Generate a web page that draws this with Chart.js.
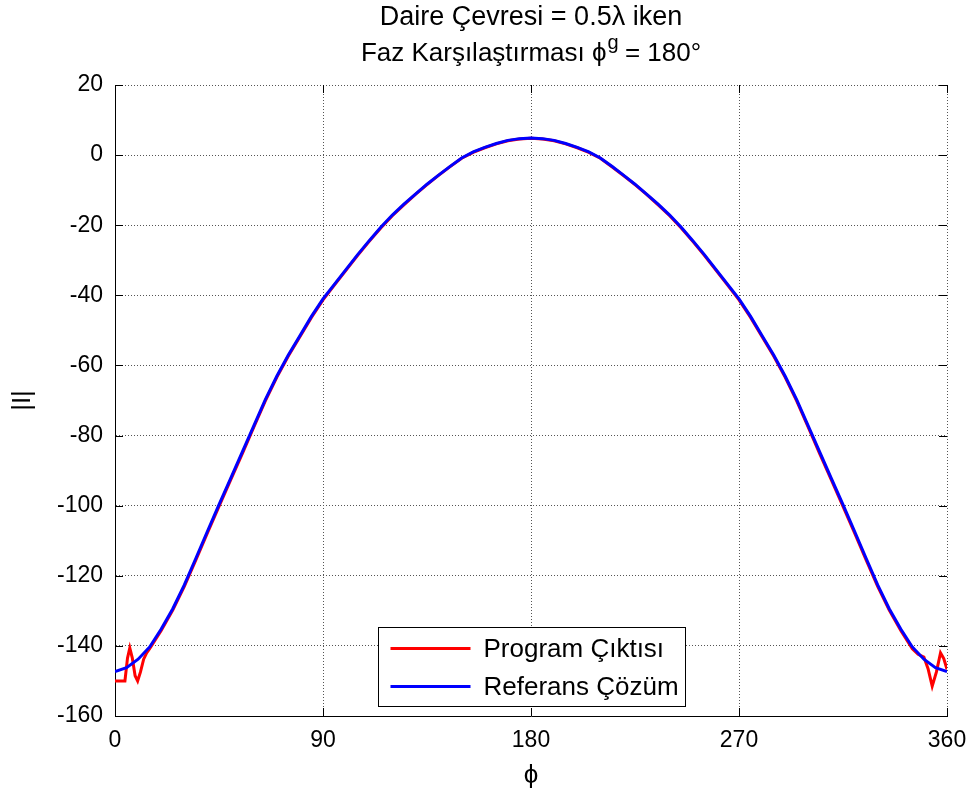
<!DOCTYPE html>
<html lang="tr">
  <head>
    <meta charset="utf-8" />
    <title>Daire Çevresi = 0.5λ iken</title>
    <script src="https://cdn.jsdelivr.net/npm/chart.js"></script>
    <style>
      html, body { margin: 0; padding: 0; background: #fff; }
      canvas { display: block; }
    </style>
  </head>
  <body>
    <canvas id="myChart" width="973" height="794"></canvas>
    <script>
      // phi (derece) ekseni
      const phiRef = [
        0, 5, 10, 15, 20, 25, 30, 35, 40, 45, 50, 55, 60, 65, 70, 75, 80, 85, 90,
        95, 100, 105, 110, 115, 120, 125, 130, 135, 140, 145, 150, 155, 160, 165, 170, 175, 180,
        185, 190, 195, 200, 205, 210, 215, 220, 225, 230, 235, 240, 245, 250, 255, 260, 265, 270,
        275, 280, 285, 290, 295, 300, 305, 310, 315, 320, 325, 330, 335, 340, 345, 350, 355, 360
      ];
      // Referans Çözüm
      const refValues = [
        -147.3, -146.2, -143.8, -140.3, -135.2, -129.4, -122.6, -115.0, -107.3, -99.7,
        -92.3, -84.8, -77.3, -69.8, -63.1, -57.0, -51.5, -46.0, -41.0,
        -36.8, -32.6, -28.4, -24.4, -20.6, -17.1, -14.0, -11.1, -8.3, -5.7,
        -3.2, -0.8, 0.9, 2.2, 3.3, 4.2, 4.7, 4.9,
        4.7, 4.2, 3.3, 2.2, 0.9, -0.8, -3.2, -5.7, -8.3, -11.1,
        -14.0, -17.1, -20.6, -24.4, -28.4, -32.6, -36.8, -41.0,
        -46.0, -51.5, -57.0, -63.1, -69.8, -77.3, -84.8, -92.3, -99.7,
        -107.3, -115.0, -122.6, -129.4, -135.2, -140.3, -143.8, -146.2, -147.3
      ];
      // Program Çıktısı
      const phiProg = [
        0, 2, 4.3, 5.4, 6.4, 7.5, 8.7, 9.8, 11, 12.4, 13.7, 15, 20, 25, 30, 35, 40, 45,
        50, 55, 60, 65, 70, 75, 80, 85, 90, 95, 100, 105, 110, 115, 120, 125, 130, 135,
        140, 145, 150, 155, 160, 165, 170, 175, 180, 185, 190, 195, 200, 205, 210, 215,
        220, 225, 230, 235, 240, 245, 250, 255, 260, 265, 270, 275, 280, 285, 290, 295,
        300, 305, 310, 315, 320, 325, 330, 335, 340, 345, 347.5, 350, 351.8, 353.6, 355.4,
        357.2, 358.6, 360
      ];
      const progValues = [
        -150, -150, -150, -143.5, -140.6, -143.5, -148.5, -150, -147.5, -143.8, -142, -140.8,
        -135.6, -129.8, -123.0, -115.5, -107.8, -100.2,
        -92.7, -85.3, -77.7, -70.2, -63.4, -57.3, -51.8, -46.3, -41.3, -37.0, -32.8, -28.6,
        -24.6, -20.8, -17.3, -14.2, -11.2, -8.4,
        -5.8, -3.3, -0.9, 0.8, 2.1, 3.2, 4.1, 4.6, 4.8, 4.6, 4.1, 3.2, 2.1, 0.8, -0.9, -3.3,
        -5.8, -8.4, -11.2, -14.2, -17.3, -20.8, -24.6, -28.6, -32.8, -37.0, -41.3, -46.3,
        -51.8, -57.3, -63.4, -70.2, -77.7, -85.3, -92.7, -100.2, -107.8, -115.5, -123.0,
        -129.8, -135.6, -140.8, -142.4, -143.2, -146.5, -151.5, -147.5, -142.0, -143.6, -146.7
      ];
      const xTicks = [0, 90, 180, 270, 360];
      const yTicks = [20, 0, -20, -40, -60, -80, -100, -120, -140, -160];

      const FONT = "'Liberation Sans', Arial, Helvetica, sans-serif";

      const frame = {
        id: "frame",
        afterDraw(chart) {
          const { ctx, chartArea: a, scales } = chart;
          ctx.save();
          // iç tik işaretleri
          ctx.strokeStyle = "#000";
          ctx.lineWidth = 1;
          ctx.beginPath();
          scales.y.ticks.forEach((t) => {
            const py = Math.round(scales.y.getPixelForValue(t.value)) + 0.5;
            ctx.moveTo(a.left, py); ctx.lineTo(a.left + 8, py);
            ctx.moveTo(a.right, py); ctx.lineTo(a.right - 8, py);
          });
          scales.x.ticks.forEach((t) => {
            const px = Math.round(scales.x.getPixelForValue(t.value)) + 0.5;
            ctx.moveTo(px, a.bottom); ctx.lineTo(px, a.bottom - 8);
            ctx.moveTo(px, a.top); ctx.lineTo(px, a.top + 8);
          });
          ctx.stroke();

          // başlık
          const cx = (a.left + a.right) / 2;
          ctx.fillStyle = "#000";
          ctx.textBaseline = "middle";
          ctx.font = "27px " + FONT;
          ctx.textAlign = "center";
          ctx.fillText("Daire Çevresi = 0.5λ iken", cx, 18);
          const p1 = "Faz Karşılaştırması ϕ";
          const p2 = "g";
          const p3 = " = 180°";
          ctx.font = "26px " + FONT;
          const w1 = ctx.measureText(p1).width;
          const w3 = ctx.measureText(p3).width;
          ctx.font = "20px " + FONT;
          const w2 = ctx.measureText(p2).width;
          let sx = cx - (w1 + w2 + w3) / 2;
          ctx.textAlign = "left";
          ctx.font = "26px " + FONT;
          ctx.fillText(p1, sx, 54);
          ctx.font = "20px " + FONT;
          ctx.fillText(p2, sx + w1 + 1, 43);
          ctx.font = "26px " + FONT;
          ctx.fillText(p3, sx + w1 + w2, 54);

          // lejant
          const lw = 307, lh = 79;
          const lx = Math.round(cx - lw / 2) + 0.5;
          const ly = Math.round(a.bottom - 10 - lh) + 0.5;
          ctx.fillStyle = "#fff";
          ctx.fillRect(lx, ly, lw, lh);
          ctx.strokeStyle = "#000";
          ctx.lineWidth = 1;
          ctx.strokeRect(lx, ly, lw, lh);
          ctx.font = "26px " + FONT;
          chart.data.datasets.forEach((ds, i) => {
            const yy = ly + 21 + i * 38;
            ctx.strokeStyle = ds.borderColor;
            ctx.lineWidth = 3;
            ctx.beginPath();
            ctx.moveTo(lx + 12, yy);
            ctx.lineTo(lx + 92, yy);
            ctx.stroke();
            ctx.fillStyle = "#000";
            ctx.fillText(ds.label, lx + 105, yy + 1);
          });
          ctx.restore();
        },
      };

      const ctx = document.getElementById("myChart");

      new Chart(ctx, {
        type: "line",
        data: {
          datasets: [
            {
              label: "Program Çıktısı",
              data: phiProg.map((p, i) => ({ x: p, y: progValues[i] })),
              borderColor: "#ff0000",
              borderWidth: 3,
              pointRadius: 0,
              tension: 0,
              order: 2,
            },
            {
              label: "Referans Çözüm",
              data: phiRef.map((p, i) => ({ x: p, y: refValues[i] })),
              borderColor: "#0000ff",
              borderWidth: 3,
              pointRadius: 0,
              tension: 0,
              order: 1,
            },
          ],
        },
        options: {
          responsive: false,
          animation: false,
          devicePixelRatio: 1,
          layout: { padding: { top: 85, right: 26, left: 0, bottom: 0 } },
          plugins: { legend: { display: false }, tooltip: { enabled: false } },
          scales: {
            x: {
              type: "linear",
              min: 0,
              max: 360,
              afterBuildTicks: (s) => { s.ticks = xTicks.map((v) => ({ value: v })); },
              afterFit: (s) => { s.height = 78; s.paddingLeft = 0; s.paddingRight = 0; },
              ticks: { color: "#000", padding: 11, font: { family: FONT, size: 23 } },
              grid: { color: "#555", drawTicks: false },
              border: { display: true, color: "#000", width: 1, dash: [1, 2] },
              title: {
                display: true,
                text: "ϕ",
                color: "#000",
                font: { family: FONT, size: 26 },
                padding: { top: 0, bottom: 3 },
              },
            },
            y: {
              min: -160,
              max: 20,
              afterBuildTicks: (s) => { s.ticks = yTicks.map((v) => ({ value: v })); },
              afterFit: (s) => { s.width = 115; s.paddingTop = 0; s.paddingBottom = 0; },
              ticks: { color: "#000", padding: 12, font: { family: FONT, size: 23 } },
              grid: { color: "#555", drawTicks: false },
              border: { display: true, color: "#000", width: 1, dash: [1, 2] },
              title: {
                display: true,
                text: "|I|",
                color: "#000",
                font: { family: FONT, size: 26 },
                padding: { top: 7, bottom: 0 },
              },
            },
          },
        },
        plugins: [frame],
      });
    </script>
  </body>
</html>
